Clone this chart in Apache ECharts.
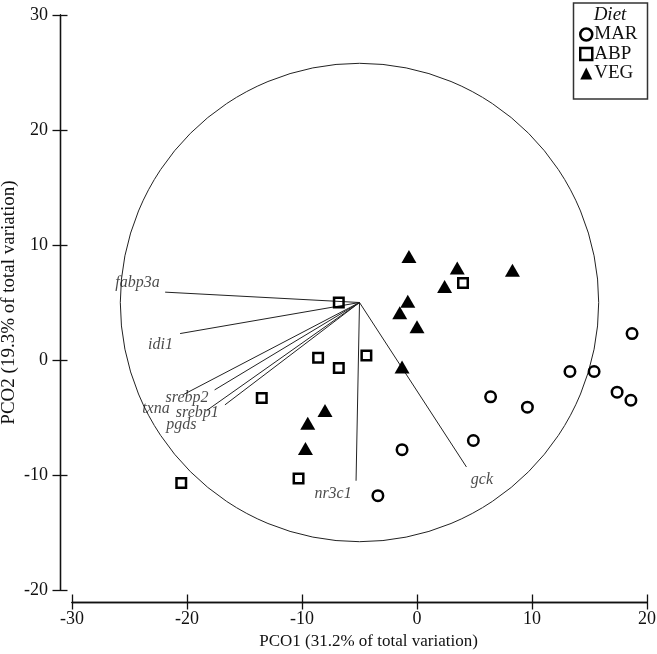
<!DOCTYPE html>
<html><head><meta charset="utf-8">
<script src="https://cdn.jsdelivr.net/npm/echarts@6/dist/echarts.min.js"></script>
<style>html,body{margin:0;padding:0;background:#fff}#c{width:657px;height:654px}</style>
</head><body><div id="c"></div>
<script>
// ---- data ----
const xTicks = [-30, -20, -10, 0, 10, 20];
const yTicks = [-20, -10, 0, 10, 20, 30];
const MAR = [[18.7,2.3],[13.3,-1.0],[15.4,-1.0],[17.4,-2.8],[18.6,-3.5],[6.4,-3.2],[9.6,-4.1],[4.9,-7.0],[-1.3,-7.8],[-3.4,-11.8]];
const ABP = [[-15.9,30.1],[-6.8,5.0],[4.0,6.7],[-8.6,0.2],[-6.8,-0.7],[-4.4,0.4],[-13.5,-3.3],[-10.3,-10.3],[-20.5,-10.7]];
const VEG = [[-0.7,9.0],[3.5,8.0],[2.4,6.4],[8.3,7.8],[-0.8,5.1],[-1.5,4.1],[0.0,2.9],[-1.3,-0.6],[-8.0,-4.4],[-9.5,-5.5],[-9.7,-7.7]];
const vectorOrigin = [-5.0, 5.0];
const circleRadius = 20.8;
const vectorNames = ['fabp3a','idi1','txna','srebp2','srebp1','pgds','nr3c1','gck'];
const vectorEnds = [[-21.9,5.9],[-20.6,2.3],[-20.3,-3.0],[-17.6,-2.6],[-16.7,-3.9],[-18.3,-4.4],[-5.3,-10.5],[4.3,-9.3]];
const vectorLabelPos = [[-24.3,6.7],[-22.3,1.3],[-22.7,-4.2],[-20.0,-3.3],[-19.1,-4.6],[-20.5,-5.6],[-7.3,-11.6],[5.65,-10.4]];
const legendTitle = 'Diet';
const xName = 'PCO1 (31.2% of total variation)';
const yName = 'PCO2 (19.3% of total variation)';

const FONT = '"Liberation Serif", "Times New Roman", serif';
const INK = '#111';
const chart = echarts.init(document.getElementById('c'), null, {renderer: 'canvas'});

const axisCommon = {
  type: 'value', interval: 10, splitLine: {show: false}, offset: 12,
  axisLine: {show: true, onZero: false, lineStyle: {color: INK, width: 1.3}},
  axisTick: {show: true, length: 7.5, lineStyle: {color: INK, width: 1.3}}
};
const labelStyle = {color: INK, fontFamily: FONT, fontSize: 18};

chart.setOption({
  animation: false,
  backgroundColor: '#fff',
  grid: {left: 72, right: 10, top: 15, bottom: 64, containLabel: false, outerBoundsMode: 'none'},
  xAxis: [
    Object.assign({}, axisCommon, {
      min: xTicks[0], max: xTicks[xTicks.length-1], position: 'bottom',
      name: xName, nameLocation: 'middle', nameGap: 31, nameMoveOverlap: false,
      nameTextStyle: {color: INK, fontFamily: FONT, fontSize: 17, padding: [0, 0, 0, 18]},
      axisLabel: Object.assign({margin: 8}, labelStyle)
    }),
    Object.assign({}, axisCommon, {
      min: xTicks[0], max: xTicks[xTicks.length-1], position: 'bottom',
      axisTick: {show: true, inside: true, length: 7.5, lineStyle: {color: INK, width: 1.3}},
      axisLabel: {show: false}
    })
  ],
  yAxis: [
    Object.assign({}, axisCommon, {
      min: yTicks[0], max: yTicks[yTicks.length-1], position: 'left',
      name: yName, nameLocation: 'middle', nameGap: 41, nameMoveOverlap: false,
      nameTextStyle: {color: INK, fontFamily: FONT, fontSize: 19},
      axisLabel: Object.assign({margin: 12}, labelStyle)
    }),
    Object.assign({}, axisCommon, {
      min: yTicks[0], max: yTicks[yTicks.length-1], position: 'left',
      axisTick: {show: true, inside: true, length: 7.5, lineStyle: {color: INK, width: 1.3}},
      axisLabel: {show: false}
    })
  ],
  legend: {
    orient: 'vertical', left: 579, top: 25, padding: 0, itemWidth: 12, itemHeight: 12, itemGap: 0.5,
    selectedMode: false,
    textStyle: {color: INK, fontFamily: FONT, fontSize: 19, lineHeight: 16, padding: [0,0,0,-3]},
    data: [
      {name: 'MAR', icon: 'circle', itemStyle: {color: 'rgba(0,0,0,0)', borderColor: '#000', borderWidth: 2.5}},
      {name: 'ABP', icon: 'rect', itemStyle: {color: 'rgba(0,0,0,0)', borderColor: '#000', borderWidth: 2.5}},
      {name: 'VEG', icon: 'triangle', itemStyle: {color: '#000', borderWidth: 0}}
    ]
  },
  graphic: [
    {type: 'rect', shape: {x: 573.5, y: 3, width: 74, height: 96},
     style: {fill: 'none', stroke: '#333', lineWidth: 1.5}},
    {type: 'text', x: 610, y: 15,
     style: {text: legendTitle, fill: INK, font: 'italic 19px ' + FONT, textAlign: 'center', textVerticalAlign: 'middle'}}
  ],
  series: [
    {
      type: 'custom', name: 'circle', silent: true, clip: false,
      data: [[vectorOrigin[0], vectorOrigin[1], circleRadius]],
      encode: {x: 0, y: 1},
      renderItem: function (params, api) {
        const c = api.coord([api.value(0), api.value(1)]);
        const s = api.size([api.value(2), api.value(2)]);
        return {type: 'circle', shape: {cx: c[0], cy: c[1], r: s[0]},
                style: {fill: 'none', stroke: '#222', lineWidth: 1}};
      },
      z: 1
    },
    {
      type: 'lines', name: 'vectors', coordinateSystem: 'cartesian2d', silent: true,
      data: vectorEnds.map(e => ({coords: [vectorOrigin, e]})),
      lineStyle: {color: '#222', width: 1, opacity: 1},
      z: 2
    },
    {
      type: 'scatter', name: 'vectorLabels', silent: true,
      data: vectorLabelPos.map((p, i) => ({value: p, name: vectorNames[i]})),
      symbol: 'circle', symbolSize: 0.1, itemStyle: {color: 'rgba(0,0,0,0)'},
      label: {show: true, position: 'inside', formatter: '{b}', color: '#1a1a1a',
              fontFamily: FONT, fontStyle: 'italic', fontSize: 16, align: 'center', verticalAlign: 'middle'},
      z: 3
    },
    {
      type: 'scatter', name: 'MAR', data: MAR, symbol: 'circle', symbolSize: 10.5,
      itemStyle: {color: 'rgba(0,0,0,0)', borderColor: '#000', borderWidth: 2.5, opacity: 1}, z: 4
    },
    {
      type: 'scatter', name: 'ABP', data: ABP, symbol: 'rect', symbolSize: 9.5,
      itemStyle: {color: 'rgba(0,0,0,0)', borderColor: '#000', borderWidth: 2.5, opacity: 1}, z: 4
    },
    {
      type: 'scatter', name: 'VEG', data: VEG, symbol: 'triangle', symbolSize: [15, 13],
      itemStyle: {color: '#000', opacity: 1}, z: 4
    }
  ]
});
</script></body></html>
